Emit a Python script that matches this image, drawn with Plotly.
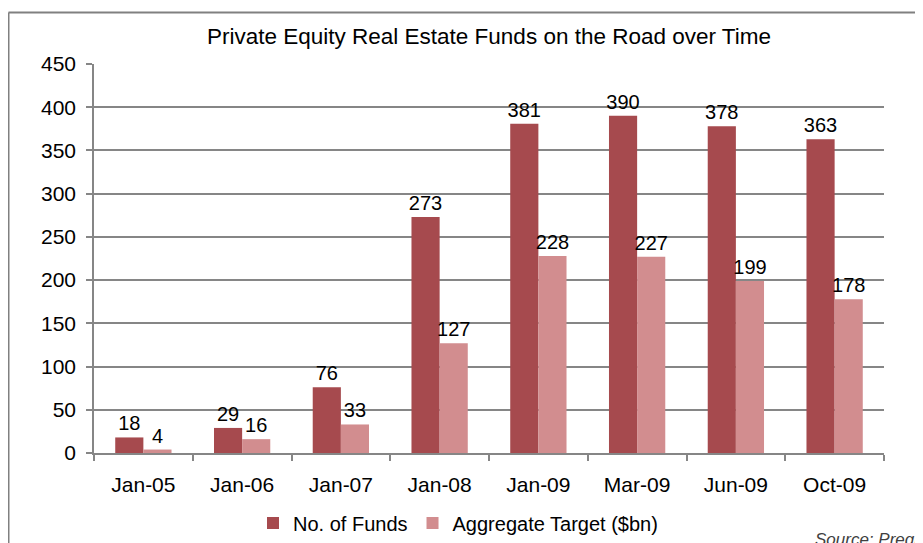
import plotly.graph_objects as go

# chart data
periods = ["Jan-05", "Jan-06", "Jan-07", "Jan-08", "Jan-09", "Mar-09", "Jun-09", "Oct-09"]
num_funds = [18, 29, 76, 273, 381, 390, 378, 363]
agg_target = [4, 16, 33, 127, 228, 227, 199, 178]

# the page body adds an 8px margin, so the figure is drawn 8px smaller/shifted
OFF = 8
W, H = 923 - OFF, 543 - OFF
L, T = 94 - OFF, 64 - OFF
pw, ph = 790, 389
R, B = W - L - pw, H - T - ph

def px_x(x):
    # reference pixel -> paper coordinate
    return (x - OFF - L) / pw

def px_y(y):
    return (T + ph - (y - OFF)) / ph

fnt = dict(family="Liberation Sans, Arial, sans-serif", size=20, color="#000000")
tick_fnt = dict(fnt, size=21)
grey = "#868686"

fig = go.Figure()
fig.add_trace(go.Bar(x=periods, y=num_funds, name="No. of Funds",
                     marker=dict(color="#A64A4E", line=dict(width=0)),
                     text=num_funds, textposition="outside", textfont=fnt,
                     constraintext="none", cliponaxis=False))
fig.add_trace(go.Bar(x=periods, y=agg_target, name="Aggregate Target ($bn)",
                     marker=dict(color="#D28D8F", line=dict(width=0)),
                     text=agg_target, textposition="outside", textfont=fnt,
                     constraintext="none", cliponaxis=False))

fig.update_layout(
    width=W, height=H,
    margin=dict(l=L, r=R, t=T, b=B, autoexpand=False),
    paper_bgcolor="white", plot_bgcolor="white",
    font=fnt,
    barmode="group", bargap=0.43, bargroupgap=0,
    title=dict(text="Private Equity Real Estate Funds on the Road over Time",
               x=0.5, xref="paper", xanchor="center",
               y=1 - (36 - OFF) / H, yanchor="middle", font=dict(size=22.5)),
    legend=dict(orientation="h", x=px_x(253), xanchor="left",
                y=px_y(523), yanchor="middle", font=dict(size=20),
                itemwidth=30, tracegroupgap=0),
    showlegend=True,
)
fig.update_yaxes(range=[0, 450], dtick=50, showgrid=True, gridcolor=grey, gridwidth=1.5,
                 showline=True, linecolor=grey, linewidth=1.5,
                 ticks="outside", ticklen=6, tickcolor=grey, tickwidth=1.5,
                 ticklabelstandoff=6, zeroline=False, tickfont=tick_fnt)
fig.update_xaxes(showline=True, linecolor=grey, linewidth=1.5,
                 ticks="outside", ticklen=6, tickcolor=grey, tickwidth=1.5,
                 tickson="boundaries", ticklabelstandoff=12, tickfont=tick_fnt)

# outer chart frame, cut off at right and bottom like the reference
fig.add_shape(type="line", xref="paper", yref="paper",
              x0=px_x(8.5), x1=px_x(8.5), y0=px_y(12.5), y1=px_y(600),
              line=dict(color="#808080", width=2))
fig.add_shape(type="line", xref="paper", yref="paper",
              x0=px_x(8.5), x1=px_x(1000), y0=px_y(12.5), y1=px_y(12.5),
              line=dict(color="#808080", width=2))

fig.add_annotation(text="<i>Source: Preqin</i>", xref="paper", yref="paper",
                   x=px_x(813), xanchor="left", y=px_y(528), yanchor="top",
                   showarrow=False, font=dict(size=17, color="#404040"))

fig.write_html("out.html")
